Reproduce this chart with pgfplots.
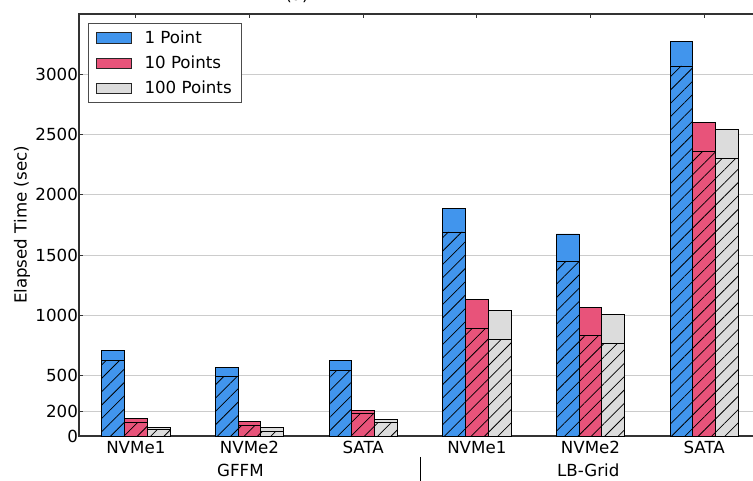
\documentclass[border=0pt]{standalone}
\usepackage{fontspec}
\setmainfont{DejaVu Sans}
\usepackage{pgfplots}
\usepackage{pgfplotstable}
\pgfplotsset{compat=1.18}
\usetikzlibrary{patterns.meta}

\definecolor{onept}{HTML}{4195ED}
\definecolor{tenpt}{HTML}{E8537A}
\definecolor{hundpt}{HTML}{DCDCDC}

% total elapsed time (Top) and the hatched lower share (Low), per device
\pgfplotstableread{
x blueTop blueLow redTop redLow grayTop grayLow
0  713  630  143  113   69   52
1  566  491  121   88   69   41
2  630  547  215  185  135  113
3 1888 1692 1133  893 1044  798
4 1676 1446 1066  834 1011  768
5 3271 3069 2597 2360 2546 2300
}\elapsed

\pgfplotsset{
  leg/.style={legend image code/.code={%
      \draw[##1, draw=black!85, line width=0.6pt] (0pt,-3.7pt) rectangle (25.4pt,3.7pt);
      \path[draw=none, fill=none] (0pt,0pt) -- (33pt,0pt);}},
  barbase/.style={ybar, bar width=0.2, draw=black, line width=0.6pt},
  hatch/.style={forget plot, postaction={pattern={Lines[angle=45,distance=6.8pt,line width=0.55pt]}, pattern color=black}},
}

\begin{document}
\begin{tikzpicture}[font=\fontsize{12}{14.4}\selectfont]
\begin{axis}[
  at={(0,0)}, anchor=south west, scale only axis,
  width=491.04pt, height=303.84pt,
  xmin=-0.5, xmax=5.5, ymin=0, ymax=3500,
  xtick={0,...,5},
  xticklabels={NVMe1,NVMe2,SATA,NVMe1,NVMe2,SATA},
  xtick pos=upper, xticklabel pos=lower,
  ytick={0,200,500,1000,1500,2000,2500,3000},
  yticklabels={0,200,500,1000,1500,2000,2500,3000},
  ytick pos=left,
  tick align=inside,
  major tick length=3pt,
  tick style={black!80, line width=0.7pt},
  ymajorgrids, grid style={black!20, line width=0.8pt},
  axis line style={black!80, line width=0.9pt},
  /pgf/number format/assume math mode=true,
  yticklabel style={inner sep=0pt, xshift=-0.6pt},
  clip=false,
  ylabel={Elapsed Time (sec)},
  ylabel style={at={(axis description cs:-0.0836,0.5)}, anchor=center},
  legend cell align=left,
  legend style={at={(axis description cs:0.0132,0.9787)}, anchor=north west,
    draw=black!70, line width=0.8pt, inner xsep=5pt, inner ysep=3pt,
    row sep=3.6pt, font=\fontsize{12}{14.4}\selectfont},
]
\addplot[barbase, bar shift=-0.2, fill=onept, leg] table[x=x, y=blueTop] {\elapsed};
\addlegendentry{1 Point}
\addplot[barbase, bar shift=-0.2, fill=onept, hatch] table[x=x, y=blueLow] {\elapsed};
\addplot[barbase, bar shift=0, fill=tenpt, leg] table[x=x, y=redTop] {\elapsed};
\addlegendentry{10 Points}
\addplot[barbase, bar shift=0, fill=tenpt, hatch] table[x=x, y=redLow] {\elapsed};
\addplot[barbase, bar shift=0.2, fill=hundpt, leg] table[x=x, y=grayTop] {\elapsed};
\addlegendentry{100 Points}
\addplot[barbase, bar shift=0.2, fill=hundpt, hatch] table[x=x, y=grayLow] {\elapsed};

% group captions below the device names, split by a short rule
\node[anchor=base, yshift=-28.8pt] at (axis cs:0.92,0) {GFFM};
\node[anchor=base, yshift=-28.8pt] at (axis cs:3.98,0) {LB-Grid};
\draw[black, line width=0.7pt] ([yshift=-15.1pt]axis cs:2.5,0) -- ([yshift=-35pt]axis cs:2.5,0);
\node[anchor=base, yshift=9.4pt] at (axis description cs:0.3196,1) {(a)};
\end{axis}
\pgfresetboundingbox
\useasboundingbox (-56.88pt,-31.68pt) rectangle (485.28pt,313.92pt);
\end{tikzpicture}
\end{document}
